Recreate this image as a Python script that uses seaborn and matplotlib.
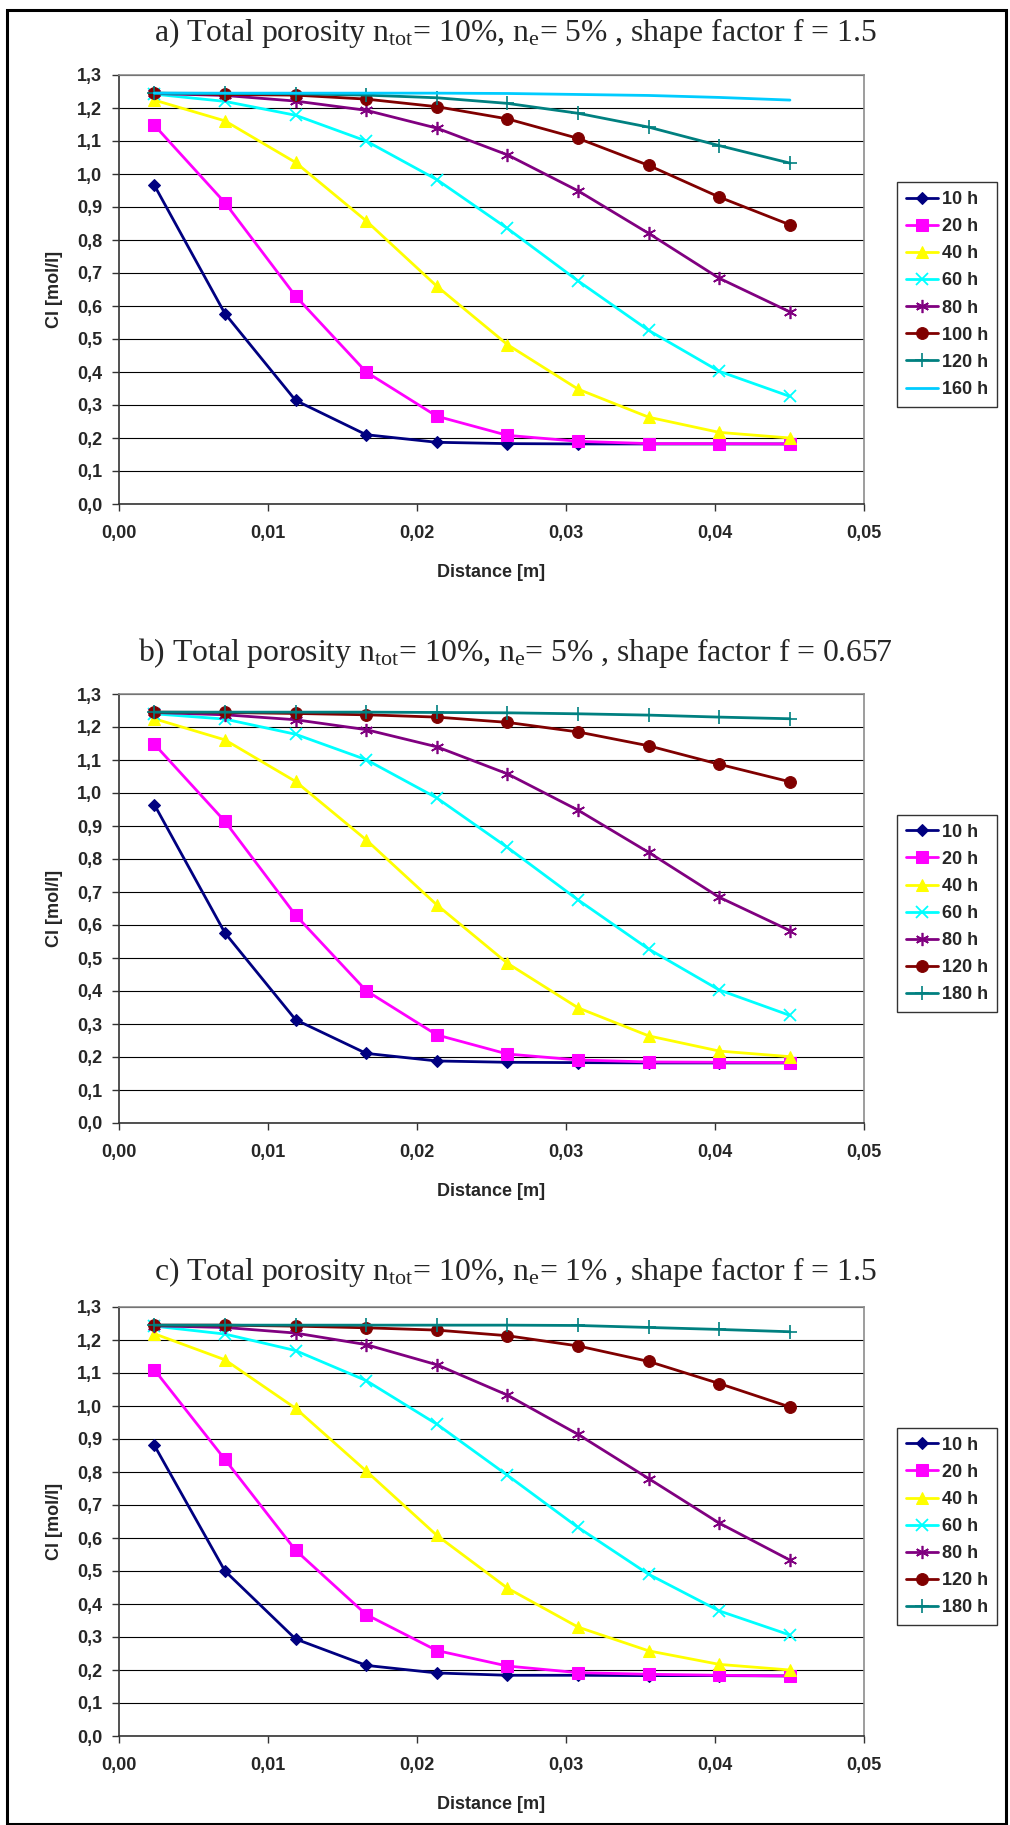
import matplotlib
matplotlib.use("Agg")
import matplotlib.pyplot as plt
import seaborn as sns
from matplotlib.ticker import FuncFormatter, MultipleLocator
from matplotlib.patches import Rectangle

# ---------------- data ----------------
distance = [0.00237, 0.00711, 0.01185, 0.01659, 0.02133, 0.02607, 0.03081, 0.03555, 0.04029, 0.04503]

# panel a
a_labels = ["10 h", "20 h", "40 h", "60 h", "80 h", "100 h", "120 h", "160 h"]
a_10h = [0.966, 0.577, 0.314, 0.210, 0.187, 0.183, 0.182, 0.182, 0.182, 0.182]
a_20h = [1.148, 0.913, 0.630, 0.400, 0.266, 0.208, 0.190, 0.183, 0.183, 0.182]
a_40h = [1.224, 1.161, 1.035, 0.858, 0.660, 0.483, 0.348, 0.263, 0.217, 0.200]
a_60h = [1.242, 1.220, 1.178, 1.100, 0.983, 0.835, 0.676, 0.526, 0.402, 0.326]
a_80h = [1.244, 1.238, 1.221, 1.193, 1.139, 1.058, 0.949, 0.820, 0.684, 0.582]
a_100h = [1.245, 1.241, 1.239, 1.227, 1.204, 1.167, 1.108, 1.026, 0.930, 0.846]
a_120h = [1.245, 1.244, 1.243, 1.239, 1.231, 1.214, 1.184, 1.142, 1.086, 1.033]
a_160h = [1.245, 1.245, 1.245, 1.245, 1.245, 1.244, 1.241, 1.238, 1.232, 1.224]

# panel b
b_labels = ["10 h", "20 h", "40 h", "60 h", "80 h", "120 h", "180 h"]
b_10h = [0.965, 0.576, 0.313, 0.211, 0.188, 0.184, 0.183, 0.182, 0.182, 0.182]
b_20h = [1.148, 0.914, 0.630, 0.401, 0.267, 0.209, 0.191, 0.185, 0.184, 0.183]
b_40h = [1.225, 1.161, 1.035, 0.858, 0.661, 0.484, 0.349, 0.264, 0.218, 0.201]
b_60h = [1.240, 1.224, 1.178, 1.101, 0.985, 0.835, 0.676, 0.527, 0.403, 0.326]
b_80h = [1.244, 1.237, 1.222, 1.192, 1.140, 1.058, 0.948, 0.820, 0.684, 0.583]
b_120h = [1.245, 1.244, 1.241, 1.237, 1.230, 1.214, 1.185, 1.143, 1.087, 1.034]
b_180h = [1.245, 1.245, 1.245, 1.245, 1.244, 1.243, 1.240, 1.236, 1.230, 1.225]

# panel c
c_labels = ["10 h", "20 h", "40 h", "60 h", "80 h", "120 h", "180 h"]
c_10h = [0.881, 0.500, 0.294, 0.214, 0.191, 0.184, 0.184, 0.183, 0.183, 0.182]
c_20h = [1.110, 0.838, 0.563, 0.368, 0.259, 0.212, 0.192, 0.187, 0.184, 0.182]
c_40h = [1.219, 1.140, 0.993, 0.803, 0.608, 0.448, 0.330, 0.258, 0.217, 0.200]
c_60h = [1.242, 1.218, 1.168, 1.077, 0.945, 0.790, 0.632, 0.490, 0.379, 0.306]
c_80h = [1.243, 1.238, 1.221, 1.186, 1.125, 1.033, 0.914, 0.780, 0.645, 0.533]
c_120h = [1.245, 1.245, 1.242, 1.237, 1.230, 1.213, 1.182, 1.135, 1.068, 0.997]
c_180h = [1.245, 1.245, 1.245, 1.245, 1.245, 1.245, 1.244, 1.238, 1.232, 1.225]

titles = [
    r"a) Total porosity n$_{\mathrm{tot}}$= 10%, n$_{\mathrm{e}}$= 5% , shape factor f = 1.5",
    r"b) Total porosity n$_{\mathrm{tot}}$= 10%, n$_{\mathrm{e}}$= 5% , shape factor f = 0.657",
    r"c) Total porosity n$_{\mathrm{tot}}$= 10%, n$_{\mathrm{e}}$= 1% , shape factor f = 1.5",
]
x_label = "Distance [m]"
y_label = "Cl [mol/l]"

# ---------------- styles ----------------
STAR = (6, 2, 0)
style_map = {
    "10 h": dict(color="#000080", marker="D", markersize=6.5),
    "20 h": dict(color="#FF00FF", marker="s", markersize=8),
    "40 h": dict(color="#FFFF00", marker="^", markersize=9),
    "60 h": dict(color="#00FFFF", marker="x", markersize=8, markeredgewidth=1.3),
    "80 h": dict(color="#800080", marker=STAR, markersize=9.5, markeredgewidth=1.2),
    "100 h": dict(color="#800000", marker="o", markersize=8.5),
    "120 h a": dict(color="#008080", marker="+", markersize=9.5, markeredgewidth=1.2),
    "120 h": dict(color="#800000", marker="o", markersize=8.5),
    "160 h": dict(color="#00CCFF", marker=None),
    "180 h": dict(color="#008080", marker="+", markersize=9.5, markeredgewidth=1.2),
}

sns.set_style("white")
plt.rcParams["font.family"] = ["Liberation Sans", "DejaVu Sans"]
plt.rcParams["mathtext.fontset"] = "custom"
plt.rcParams["mathtext.rm"] = "Liberation Serif"
plt.rcParams["mathtext.it"] = "Liberation Serif:italic"

W, H = 1010, 1825
fig = plt.figure(figsize=(W / 100, H / 100), dpi=100)
fig.patch.set_facecolor("white")

panels = [
    (a_labels, [a_10h, a_20h, a_40h, a_60h, a_80h, a_100h, a_120h, a_160h], 75, 33, "a", titles[0]),
    (b_labels, [b_10h, b_20h, b_40h, b_60h, b_80h, b_120h, b_180h], 694, 653, "b", titles[1]),
    (c_labels, [c_10h, c_20h, c_40h, c_60h, c_80h, c_120h, c_180h], 1307, 1272, "c", titles[2]),
]

ax_left, ax_right = 119, 864
ax_h = 429

comma = FuncFormatter(lambda v, p: f"{v:.1f}".replace(".", ","))
comma2 = FuncFormatter(lambda v, p: f"{v:.2f}".replace(".", ","))

for labels, series, top, title_y, key, title in panels:
    ax = fig.add_axes([ax_left / W, 1 - (top + ax_h) / H, (ax_right - ax_left) / W, ax_h / H])
    for lab, vals in zip(labels, series):
        k = lab
        if key == "a" and lab == "120 h":
            k = "120 h a"
        st = dict(style_map[k])
        color = st.pop("color")
        sns.lineplot(x=distance, y=vals, ax=ax, color=color, linewidth=2.0,
                     markeredgecolor=color, markerfacecolor=color,
                     label=lab, **st)
    ax.set_xlim(0, 0.05)
    ax.set_ylim(0, 1.3)
    ax.xaxis.set_major_locator(MultipleLocator(0.01))
    ax.yaxis.set_major_locator(MultipleLocator(0.1))
    ax.xaxis.set_major_formatter(comma2)
    ax.yaxis.set_major_formatter(comma)
    ax.grid(axis="y", color="black", linewidth=0.8)
    ax.grid(axis="x", visible=False)
    ax.set_axisbelow(True)
    for s in ["top", "right"]:
        ax.spines[s].set_color("#8c8c8c")
        ax.spines[s].set_linewidth(1.2)
    for s in ["left", "bottom"]:
        ax.spines[s].set_color("#333333")
        ax.spines[s].set_linewidth(1.2)
    ax.tick_params(axis="both", direction="out", length=5, width=1, color="#333333",
                   labelsize=13, pad=7, left=True, bottom=True)
    ax.tick_params(axis="x", pad=10)
    for t in ax.get_xticklabels() + ax.get_yticklabels():
        t.set_fontweight("bold")
    ax.set_xlabel(x_label, fontsize=13, fontweight="bold", labelpad=16)
    ax.set_ylabel(y_label, fontsize=13, fontweight="bold", labelpad=10)
    ax.legend_.remove()
    handles, lbls = ax.get_legend_handles_labels()
    leg = fig.legend(handles, lbls, loc="center left",
                     bbox_to_anchor=(897 / W, 1 - (top + ax_h / 2 + 5) / H),
                     bbox_transform=fig.transFigure, borderaxespad=0,
                     frameon=True, fancybox=False, edgecolor="black",
                     prop=dict(family="Liberation Sans", weight="bold", size=13),
                     handlelength=1.75, handletextpad=0.25, labelspacing=0.56,
                     borderpad=0.5, markerscale=1.0)
    leg.get_frame().set_linewidth(1.0)
    fig.text(515 / W, 1 - title_y / H, title,
             ha="center", va="center", fontsize=22.8, family="Liberation Serif")

fig.add_artist(Rectangle((7 / W, 1 / H), (1006 - 7) / W, (1814 - 0) / H,
                         transform=fig.transFigure, fill=False, edgecolor="black", linewidth=2.2))

fig.savefig("out.png", dpi=100, facecolor="white")
